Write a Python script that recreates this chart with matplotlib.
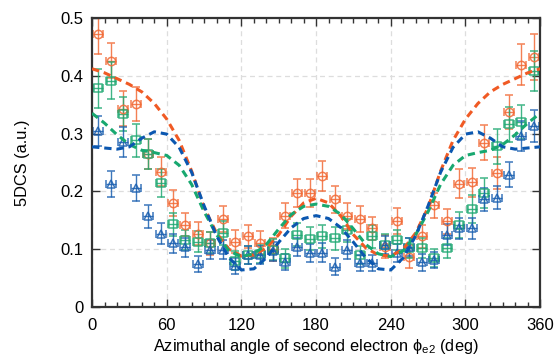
import matplotlib
matplotlib.use("Agg")
import matplotlib.pyplot as plt
from matplotlib.ticker import MultipleLocator

plt.rcParams["font.family"] = ["Liberation Sans", "DejaVu Sans"]
plt.rcParams["mathtext.fontset"] = "custom"
plt.rcParams["mathtext.rm"] = "Liberation Sans"
plt.rcParams["mathtext.it"] = "Liberation Sans:italic"

# measured angles (deg)
angle = [5, 15, 25, 35, 45, 55, 65, 75, 85, 95, 105, 115, 125, 135, 145, 155, 165, 175,
         185, 195, 205, 215, 225, 235, 245, 255, 265, 275, 285, 295, 305, 315, 325, 335, 345, 355]

orange_y = [0.473, 0.426, 0.343, 0.351, 0.265, 0.234, 0.180, 0.142, 0.127, 0.110, 0.152, 0.113,
            0.122, 0.111, 0.100, 0.158, 0.197, 0.197, 0.226, 0.186, 0.157, 0.152, 0.136, 0.104,
            0.149, 0.087, 0.122, 0.176, 0.148, 0.213, 0.216, 0.284, 0.232, 0.337, 0.419, 0.432]
orange_err = [0.035, 0.030, 0.030, 0.030, 0.026, 0.025, 0.022, 0.020, 0.020, 0.020, 0.022, 0.020,
              0.020, 0.020, 0.020, 0.022, 0.024, 0.024, 0.026, 0.024, 0.022, 0.022, 0.020, 0.020,
              0.022, 0.020, 0.020, 0.022, 0.022, 0.025, 0.025, 0.030, 0.028, 0.030, 0.035, 0.040]

green_y = [0.378, 0.391, 0.334, 0.288, 0.264, 0.215, 0.143, 0.116, 0.113, 0.111, 0.128, 0.080,
           0.090, 0.092, 0.099, 0.084, 0.125, 0.118, 0.122, 0.119, 0.133, 0.090, 0.122, 0.108,
           0.116, 0.102, 0.102, 0.085, 0.102, 0.142, 0.170, 0.197, 0.278, 0.316, 0.320, 0.408]
green_err = [0.033, 0.032, 0.030, 0.028, 0.026, 0.024, 0.020, 0.018, 0.018, 0.018, 0.020, 0.016,
             0.016, 0.016, 0.018, 0.016, 0.020, 0.020, 0.020, 0.020, 0.020, 0.016, 0.020, 0.018,
             0.018, 0.018, 0.018, 0.016, 0.018, 0.022, 0.024, 0.026, 0.030, 0.030, 0.030, 0.035]

blue_y = [0.304, 0.213, 0.286, 0.206, 0.157, 0.127, 0.110, 0.103, 0.074, 0.099, 0.099, 0.071,
          0.090, 0.090, 0.096, 0.078, 0.104, 0.093, 0.094, 0.070, 0.099, 0.076, 0.076, 0.107,
          0.093, 0.104, 0.077, 0.081, 0.125, 0.136, 0.136, 0.186, 0.189, 0.229, 0.295, 0.313]
blue_err = [0.026, 0.022, 0.026, 0.022, 0.020, 0.018, 0.016, 0.016, 0.014, 0.016, 0.016, 0.014,
            0.016, 0.016, 0.016, 0.014, 0.016, 0.016, 0.016, 0.014, 0.016, 0.014, 0.014, 0.016,
            0.016, 0.016, 0.014, 0.014, 0.018, 0.018, 0.018, 0.020, 0.020, 0.022, 0.026, 0.028]

# theory curves (deg, 10-degree steps)
theory_angle = list(range(0, 361, 10))
orange_theory = [0.412, 0.405, 0.395, 0.385, 0.372, 0.352, 0.325, 0.288, 0.235, 0.172, 0.128,
                 0.100, 0.088, 0.090, 0.102, 0.125, 0.157, 0.180, 0.188, 0.180, 0.157, 0.125,
                 0.102, 0.090, 0.088, 0.100, 0.128, 0.172, 0.235, 0.288, 0.325, 0.352, 0.372,
                 0.385, 0.395, 0.405, 0.412]
green_theory = [0.335, 0.318, 0.298, 0.281, 0.271, 0.267, 0.262, 0.245, 0.212, 0.165, 0.125,
                0.097, 0.087, 0.092, 0.108, 0.135, 0.160, 0.174, 0.178, 0.174, 0.160, 0.135,
                0.108, 0.092, 0.087, 0.097, 0.125, 0.165, 0.212, 0.245, 0.262, 0.267, 0.271,
                0.281, 0.298, 0.318, 0.335]
blue_theory = [0.277, 0.275, 0.273, 0.277, 0.292, 0.303, 0.299, 0.276, 0.233, 0.175, 0.123,
               0.085, 0.064, 0.066, 0.085, 0.112, 0.137, 0.153, 0.158, 0.153, 0.137, 0.112,
               0.085, 0.066, 0.064, 0.085, 0.123, 0.175, 0.233, 0.276, 0.299, 0.303, 0.292,
               0.277, 0.273, 0.275, 0.277]

ORANGE = "#f26a36"
GREEN = "#1fa872"
BLUE = "#1a5fb0"

fig = plt.figure(figsize=(5.58, 3.58), dpi=100)
ax = fig.add_axes([0.165, 0.1425, 0.803, 0.8075])

for ys, err, col, mk in [(orange_y, orange_err, ORANGE, "o"),
                         (green_y, green_err, GREEN, "s"),
                         (blue_y, blue_err, BLUE, "^")]:
    ax.errorbar(angle, ys, yerr=err, xerr=4, fmt=mk, ms=6, mfc="none", mec=col,
                mew=1.1, ecolor=col, elinewidth=1.0, capsize=3, capthick=1.0,
                color=col, alpha=0.85, clip_on=True, zorder=2)

for th, col in [(orange_theory, "#f05a24"), (green_theory, "#18a870"), (blue_theory, "#0b57b0")]:
    ax.plot(theory_angle, th, color=col, lw=2.2, dashes=(2.4, 1.6), zorder=3)

ax.set_xlim(0, 360)
ax.set_ylim(0, 0.5)
ax.xaxis.set_major_locator(MultipleLocator(60))
ax.xaxis.set_minor_locator(MultipleLocator(10))
ax.set_yticks([0, 0.1, 0.2, 0.3, 0.4, 0.5])
ax.set_yticklabels(["0", "0.1", "0.2", "0.3", "0.4", "0.5"])
ax.tick_params(which="both", direction="in", top=True, right=True, labelsize=12,
               color="#333333", width=1.0)
ax.tick_params(which="major", length=6)
ax.tick_params(which="minor", length=3.5)
ax.tick_params(axis="x", which="major", pad=8)
ax.tick_params(axis="y", which="major", pad=6)
ax.grid(True, which="major", color="#dddddd", ls=(0, (4, 3)), lw=0.9)
ax.set_axisbelow(True)
for sp in ax.spines.values():
    sp.set_linewidth(1.6)
    sp.set_color("#333333")

ax.set_ylabel("5DCS (a.u.)", fontsize=11.8)
ax.yaxis.label.set_va("center")
ax.yaxis.set_label_coords(-0.156, 0.5)
ax.set_xlabel("Azimuthal angle of second electron \u03d5$_{\\mathrm{e2}}$ (deg)", fontsize=11.8)
ax.xaxis.label.set_va("center")
ax.xaxis.set_label_coords(0.5, -0.138)

fig.savefig("out.png", dpi=100)
